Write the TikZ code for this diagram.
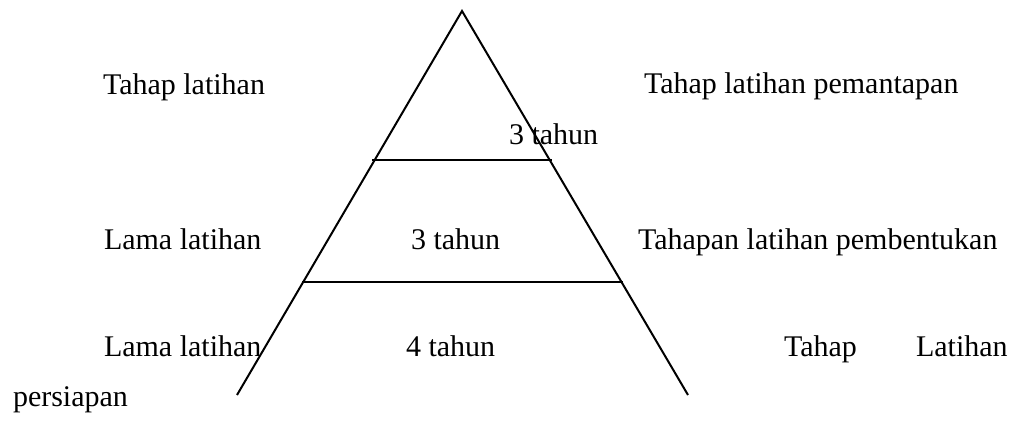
\documentclass[tikz,border=0pt]{standalone}
\usepackage{fontspec}
\setmainfont{Liberation Serif}
\begin{document}
\begin{tikzpicture}[x=0.4pt, y=-0.4pt, line width=0.8pt,
  lbl/.style={anchor=base west, inner sep=0pt, font=\fontsize{12}{14}\selectfont}]
  \useasboundingbox (0,0) rectangle (1011,445);
  % pyramid
  \coordinate (top) at (462,11);
  \coordinate (botL) at (237,395);
  \coordinate (botR) at (688,395);
  \draw (botL) -- (top) -- (botR);
  \coordinate (upL) at (372,160);
  \coordinate (upR) at (552,160);
  \coordinate (midL) at (302,282);
  \coordinate (midR) at (623,282);
  \draw (upL) -- (upR);
  \draw (midL) -- (midR);
  % labels
  \node[lbl] (tahap1) at (102,95) {Tahap latihan};
  \node[lbl] (pemantapan) at (643,94) {Tahap latihan pemantapan};
  \node[lbl] (tahunA) at (508,145) {3 tahun};
  \node[lbl] (lama2) at (103,249) {Lama latihan};
  \node[lbl] (tahunB) at (410,249) {3 tahun};
  \node[lbl] (pembentukan) at (637,249) {Tahapan latihan pembentukan};
  \node[lbl] (lama3) at (103,356) {Lama latihan};
  \node[lbl] (tahunC) at (405,356) {4 tahun};
  \node[lbl] (tahap3) at (783,356) {Tahap};
  \node[lbl] (latihan3) at (915,356) {Latihan};
  \node[lbl] (persiapan) at (12,406) {persiapan};
\end{tikzpicture}
\end{document}
